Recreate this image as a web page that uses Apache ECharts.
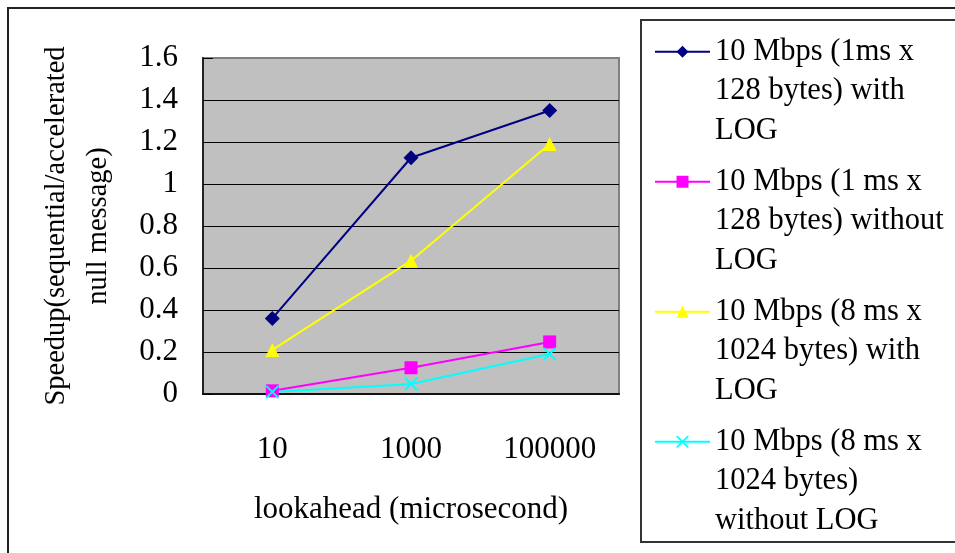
<!DOCTYPE html>
<html>
<head>
<meta charset="utf-8">
<script src="https://cdn.jsdelivr.net/npm/echarts@6/dist/echarts.min.js"></script>
<style>
  html, body { margin: 0; padding: 0; background: #fff; }
  #chart { width: 955px; height: 553px; }
</style>
</head>
<body>
<div id="chart"></div>
<script>
// Lookahead values (x categories)
const categories = ['10', '1000', '100000'];

// Series names (legend text, wrapped over three lines)
const seriesNames = [
  '10 Mbps (1ms x\n128 bytes) with\nLOG',
  '10 Mbps (1 ms x\n128 bytes) without\nLOG',
  '10 Mbps (8 ms x\n1024 bytes) with\nLOG',
  '10 Mbps (8 ms x\n1024 bytes)\nwithout LOG'
];

// Speedup per lookahead
const speedup1msLog = [0.36, 1.125, 1.35];
const speedup1msNoLog = [0.015, 0.125, 0.248];
const speedup8msLog = [0.21, 0.635, 1.19];
const speedup8msNoLog = [0.01, 0.048, 0.19];

const FONT = 'Liberation Serif';
const crossPath = 'path://M0,0 L2,0 L10,8 L18,0 L20,0 L20,2 L12,10 L20,18 L20,20 L18,20 L10,12 L2,20 L0,20 L0,18 L8,10 L0,2 Z';

const styles = [
  { color: '#000080', symbol: 'diamond', size: 15 },
  { color: '#FF00FF', symbol: 'rect', size: 13 },
  { color: '#FFFF00', symbol: 'triangle', size: 14 },
  { color: '#00FFFF', symbol: crossPath, size: 13 }
];
const values = [speedup1msLog, speedup1msNoLog, speedup8msLog, speedup8msNoLog];

const chart = echarts.init(document.getElementById('chart'), null, { renderer: 'canvas' });

chart.setOption({
  animation: false,
  backgroundColor: '#ffffff',
  textStyle: { fontFamily: FONT, color: '#000' },
  graphic: [
    { type: 'rect', shape: { x: 8, y: 8, width: 1000, height: 600 }, style: { fill: 'none', stroke: '#222', lineWidth: 2 }, z: -10 },
    { type: 'rect', shape: { x: 641, y: 20, width: 400, height: 522 }, style: { fill: 'none', stroke: '#333', lineWidth: 2 }, z: -10 }
  ],
  grid: {
    left: 203, top: 58, right: 336, bottom: 159,
    show: true, backgroundColor: '#C0C0C0', borderColor: '#808080', borderWidth: 2
  },
  legend: {
    orient: 'vertical',
    left: 654,
    top: -47,
    padding: 0,
    itemWidth: 55,
    itemHeight: 15,
    itemGap: -67.5,
    data: seriesNames,
    // two leading blank lines put the first text line level with the icon
    formatter: name => '\n\n' + name,
    textStyle: {
      fontFamily: FONT, fontSize: 30.5, color: '#000', lineHeight: 39.5
    }
  },
  xAxis: {
    type: 'category',
    data: categories,
    name: 'lookahead (microsecond)',
    nameLocation: 'middle',
    nameGap: 100,
    nameTextStyle: { fontFamily: FONT, fontSize: 31, color: '#000' },
    axisLine: { lineStyle: { color: '#111', width: 2 } },
    axisTick: { inside: true, length: 10, lineStyle: { color: '#333', width: 2 } },
    axisLabel: { fontFamily: FONT, fontSize: 31, color: '#000', margin: 40 }
  },
  yAxis: {
    type: 'value',
    min: 0, max: 1.6, interval: 0.2,
    name: 'Speedup(sequential/accelerated\nnull message)',
    nameLocation: 'middle',
    nameGap: 83,
    nameTextStyle: { fontFamily: FONT, fontSize: 28.5, color: '#000', lineHeight: 42 },
    axisLine: { show: true, lineStyle: { color: '#222', width: 2 } },
    axisTick: { show: true, inside: true, length: 10, lineStyle: { color: '#000', width: 1 } },
    axisLabel: {
      fontFamily: FONT, fontSize: 31, color: '#000', margin: 25,
      formatter: v => String(parseFloat(v.toFixed(1)))
    },
    splitLine: { show: true, showMaxLine: false, lineStyle: { color: '#000', width: 1 } }
  },
  series: values.map((vals, i) => ({
    type: 'line',
    name: seriesNames[i],
    data: vals,
    symbol: styles[i].symbol,
    symbolSize: styles[i].size,
    showAllSymbol: true,
    lineStyle: { color: styles[i].color, width: 2 },
    itemStyle: { color: styles[i].color, borderWidth: 0 },
    emphasis: { disabled: true }
  }))
});
</script>
</body>
</html>
